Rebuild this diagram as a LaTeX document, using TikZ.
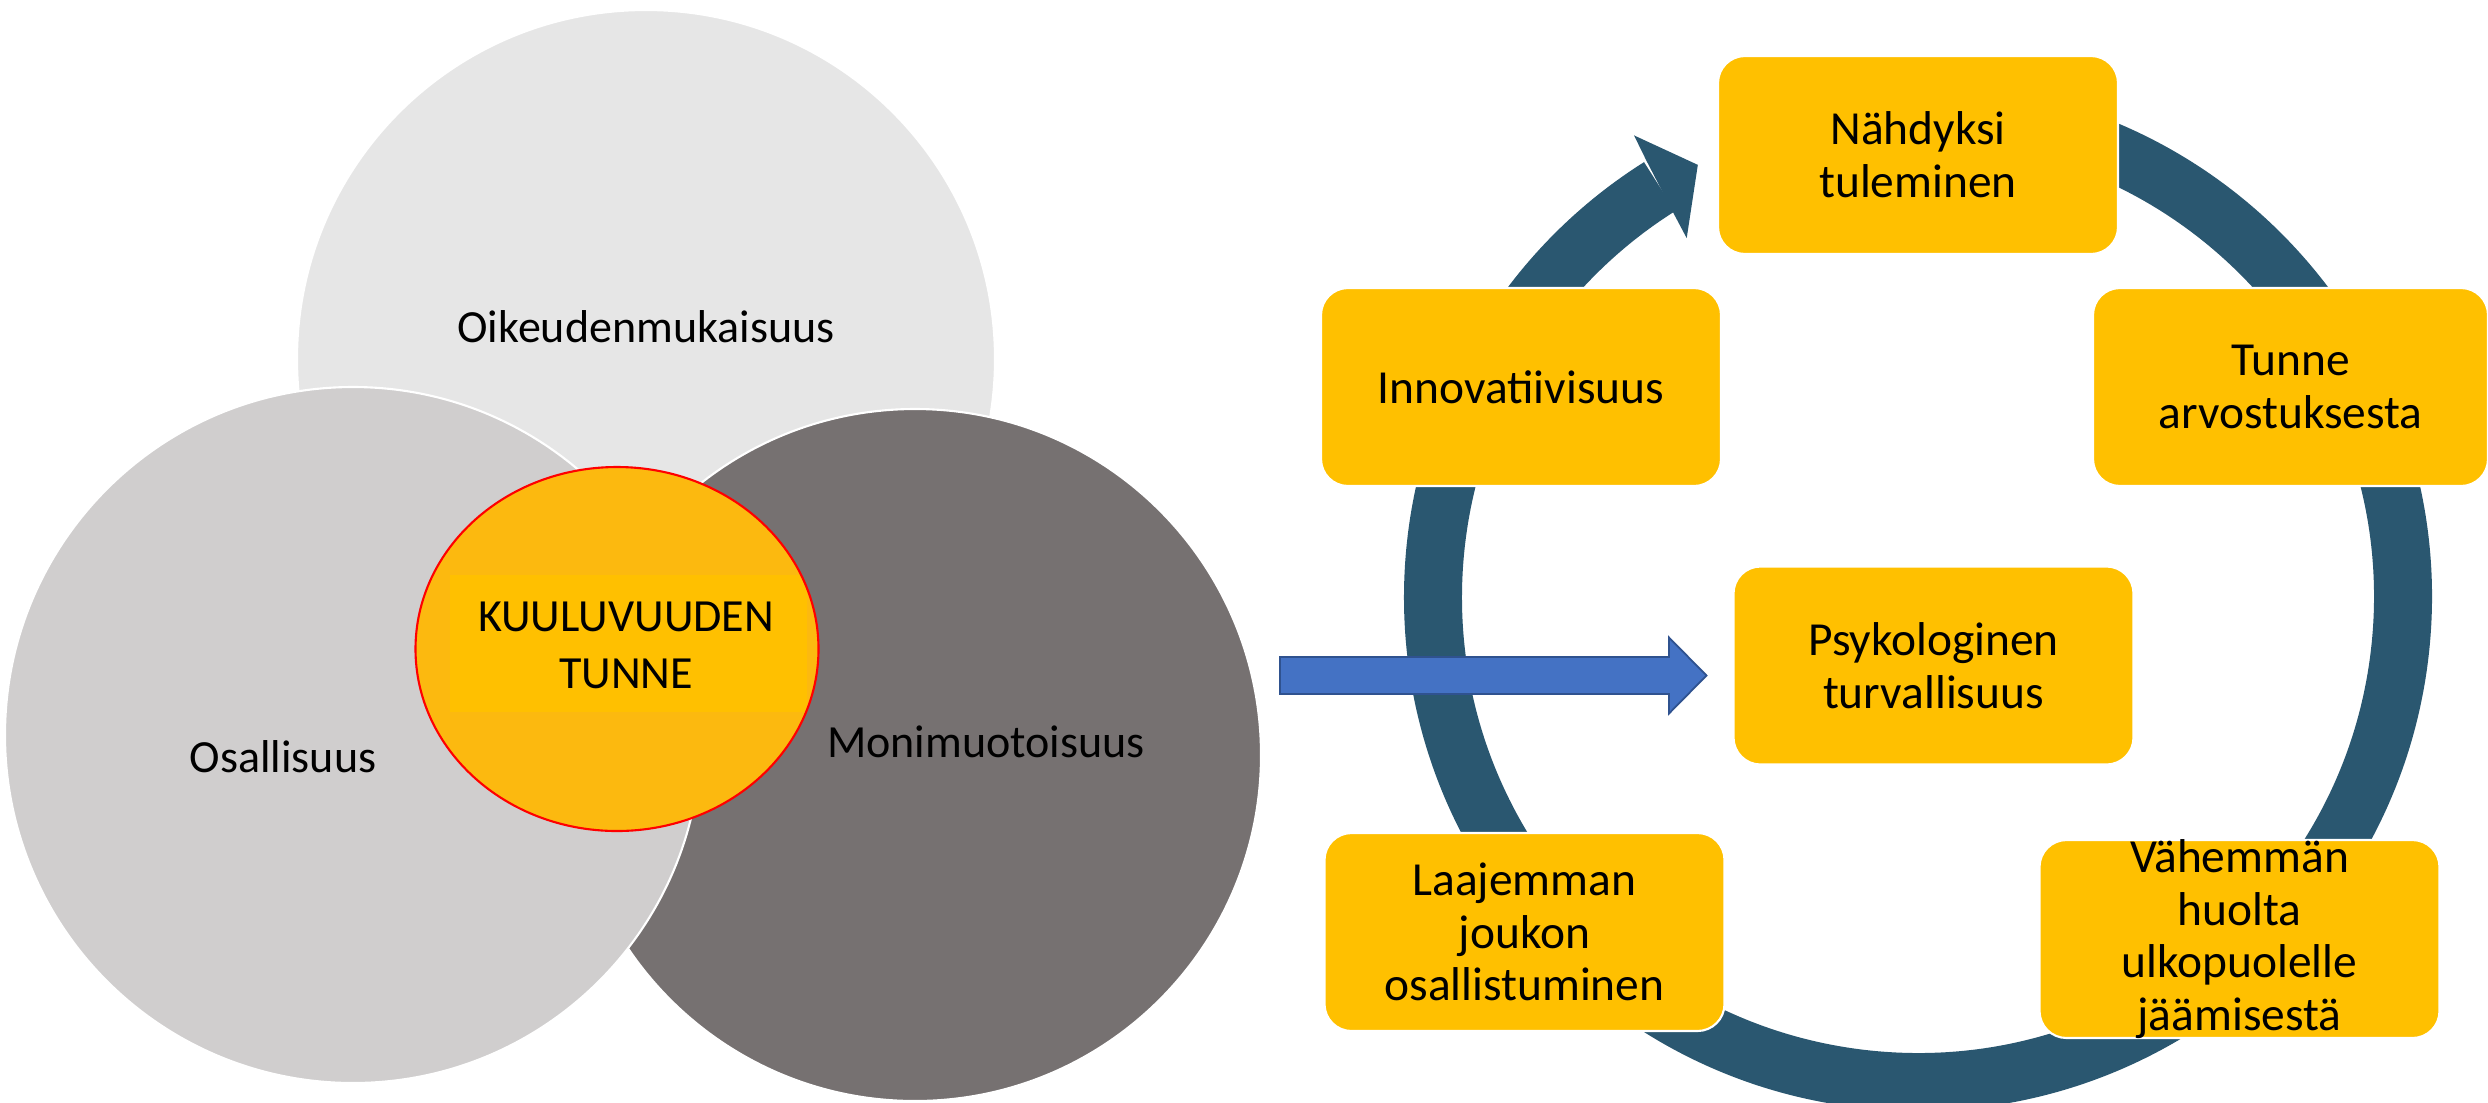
\documentclass[tikz,border=0pt]{standalone}
\usepackage{fontspec}
\setmainfont{Carlito}
\usetikzlibrary{shapes.geometric}

\definecolor{topgray}{HTML}{E6E6E6}
\definecolor{leftgray}{HTML}{D0CECE}
\definecolor{darkgray}{HTML}{767171}
\definecolor{coreorange}{HTML}{FCB90F}
\definecolor{boxyellow}{HTML}{FFC000}
\definecolor{ringblue}{HTML}{2A5770}
\definecolor{arrowblue}{HTML}{4472C4}
\definecolor{arrowedge}{HTML}{2F528F}

\tikzset{
  venn/.style={circle, draw=white, line width=0.6pt, inner sep=0pt},
  lbl/.style={align=center, inner sep=0pt, font=\fontsize{13.1}{16.2}\selectfont},
  stagebox/.style={rectangle, rounded corners=0.27cm, fill=boxyellow, draw=white,
    line width=0.6pt, minimum width=4cm, minimum height=1.98cm, inner sep=0pt,
    align=center, font=\fontsize{13.5}{15}\selectfont},
  boxtext/.style={align=center, inner sep=0pt, font=\fontsize{13.5}{15}\selectfont},
}

\begin{document}
\begin{tikzpicture}
\clip (0,0) rectangle (24.88,-11.02);
\fill[white] (0,0) rectangle (24.88,-11.02);

% ---- Venn of the three pillars ----
\node[venn, fill=topgray, minimum size=6.98cm] (oik) at (6.46,-3.59) {};
\node[venn, fill=darkgray, minimum size=6.92cm] (moni) at (9.15,-7.55) {};
\node[venn, fill=leftgray, minimum size=6.96cm] (osa) at (3.53,-7.35) {};

\node[lbl] (toik) at (6.46,-3.27) {Oikeudenmukaisuus};
\node[lbl] (tosa) at (2.83,-7.57) {Osallisuus};
\node[lbl] (tmoni) at (9.86,-7.42) {Monimuotoisuus};

% core: sense of belonging
\node[ellipse, fill=coreorange, minimum width=4.03cm, minimum height=3.64cm,
      inner sep=0pt] (core) at (6.17,-6.49) {};
\begin{scope}
  \clip (6.17,-6.49) ellipse [x radius=2.0, y radius=1.81];
  \fill[boxyellow] (4.50,-5.75) rectangle (8.07,-7.12);
\end{scope}
\draw[red, line width=0.6pt] (core.center) ellipse [x radius=2.015, y radius=1.82];
\node[lbl] (tcore) at (6.26,-6.45) {KUULUVUUDEN\\TUNNE};

% ---- circular process ring ----
\coordinate (ringc) at (19.18,-5.97);
\begin{scope}[shift={(ringc)}]
  \draw[ringblue, line width=0.58cm] (85:4.85) arc[start angle=85, end angle=-237.8, radius=4.85];
  \fill[ringblue] (121.9:5.14) -- (121.6:5.42) -- (117.0:4.85) -- (122.8:4.27)
    -- (122.5:4.55) -- cycle;
\end{scope}

% ---- arrow into the ring ----
\fill[arrowblue, draw=arrowedge, line width=0.5pt]
  (12.80,-6.57) -- (16.69,-6.57) -- (16.69,-6.375) -- (17.065,-6.755)
  -- (16.69,-7.135) -- (16.69,-6.94) -- (12.80,-6.94) -- cycle;

% ---- stages ----
\node[stagebox] (nah) at (19.18,-1.55) {Nähdyksi\\tuleminen};
\node[stagebox, minimum width=3.95cm] (tun) at (22.905,-3.87) {Tunne\\arvostuksesta};
\node[stagebox] (inn) at (15.21,-3.87) {Innovatiivisuus};
\node[stagebox] (psy) at (19.335,-6.655) {Psykologinen\\turvallisuus};
\node[stagebox] (laa) at (15.245,-9.32) {Laajemman\\joukon\\osallistuminen};
\node[stagebox] (vah) at (22.395,-9.39) {};
\node[boxtext] (tvah) at (vah.center) {Vähemmän\\huolta\\ulkopuolelle\\jäämisestä};

\end{tikzpicture}
\end{document}
